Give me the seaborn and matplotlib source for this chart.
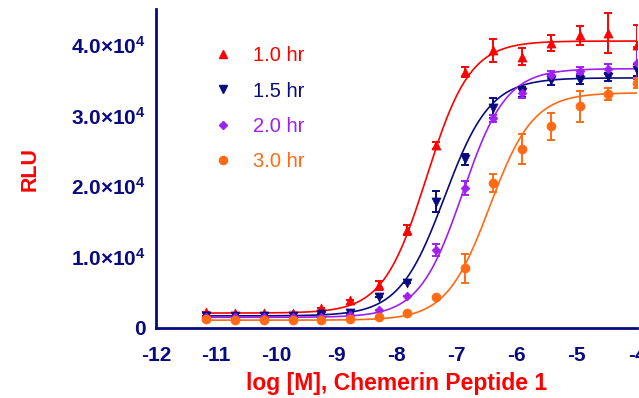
import numpy as np
import pandas as pd
import matplotlib
matplotlib.use("Agg")
import matplotlib.pyplot as plt
from matplotlib.lines import Line2D
import seaborn as sns

# log concentration of the dilution series
log_conc = [-11.16, -10.68, -10.20, -9.72, -9.25, -8.77, -8.29, -7.82,
            -7.34, -6.86, -6.39, -5.91, -5.43, -4.95, -4.48, -4.00]

labels = ["1.0 hr", "1.5 hr", "2.0 hr", "3.0 hr"]
colors = ["#ff0000", "#0a0a80", "#a020f0", "#ff6a13"]
markers = ["^", "v", "D", "o"]
msizes = [6.5, 6.5, 4.5, 6.5]

rlu_1h = [2300, 2100, 2100, 2100, 2800, 3900, 6000, 13800,
          25800, 36100, 39200, 38300, 40200, 41300, 41600, 40000]
err_1h = [0, 0, 0, 0, 0, 0, 600, 700, 500, 700, 1650, 1200, 1100, 1300, 2800, 2700]

rlu_15h = [1700, 1700, 1700, 1700, 2000, 2100, 4400, 6300,
           17800, 23800, 31000, 33300, 35000, 35000, 35400, 36400]
err_15h = [0, 0, 0, 0, 0, 0, 0, 0, 1500, 800, 1400, 700, 700, 600, 600, 800]

rlu_2h = [1500, 1500, 1500, 1500, 1600, 1800, 2600, 4500,
          11000, 19700, 29600, 33100, 35700, 36300, 36500, 37400]
err_2h = [0, 0, 0, 0, 0, 0, 0, 0, 900, 1000, 500, 600, 600, 500, 700, 2200]

rlu_3h = [1300, 1100, 1100, 1100, 1100, 1200, 1500, 2100,
          4400, 8400, 20500, 25300, 28500, 31300, 33000, 34600]
err_3h = [0, 0, 0, 0, 0, 0, 0, 0, 0, 2000, 1250, 2100, 1900, 2200, 800, 700]

# 4PL fit parameters: bottom, top, logEC50, hill slope
fit_bottom = [2100, 1700, 1500, 1100]
fit_top = [40500, 35300, 36600, 33200]
fit_logec50 = [-7.50, -7.20, -6.90, -6.45]
fit_hill = [1.2, 1.15, 1.2, 1.2]

yticks = [0, 10000, 20000, 30000, 40000]
ytick_labels = ["0", r"$\mathbf{1.0{\times}10^{4}}$", r"$\mathbf{2.0{\times}10^{4}}$",
                r"$\mathbf{3.0{\times}10^{4}}$", r"$\mathbf{4.0{\times}10^{4}}$"]

sns.set_style("white")
plt.rcParams["font.family"] = ["Liberation Sans", "DejaVu Sans"]
plt.rcParams["mathtext.fontset"] = "custom"
plt.rcParams["mathtext.bf"] = "Liberation Sans:bold"
plt.rcParams["mathtext.rm"] = "Liberation Sans"

navy = "#0a0a80"

fig = plt.figure(figsize=(6.39, 3.98), dpi=100)
ax = fig.add_axes([0.244, 0.176, 0.753, 0.801])

series = [rlu_1h, rlu_15h, rlu_2h, rlu_3h]
errs = [err_1h, err_15h, err_2h, err_3h]
xfit = np.linspace(log_conc[0], log_conc[-1], 300)

for i in range(4):
    yfit = fit_bottom[i] + (fit_top[i] - fit_bottom[i]) / (1 + 10 ** ((fit_logec50[i] - xfit) * fit_hill[i]))
    sns.lineplot(x=xfit, y=yfit, color=colors[i], lw=1.2, ax=ax, zorder=2)
    ax.errorbar(log_conc, series[i], yerr=errs[i], fmt="none", ecolor=colors[i],
                elinewidth=1.4, capsize=3, capthick=1.4, zorder=3)
    df = pd.DataFrame({"x": log_conc, "y": series[i]})
    sns.scatterplot(data=df, x="x", y="y", marker=markers[i], s=msizes[i] ** 2,
                    color=colors[i], edgecolor=colors[i], linewidth=0.5, ax=ax, zorder=4)

ax.set_xlim(-12, -4)
ax.set_ylim(0, 45000)
ax.set_xticks(range(-12, -3))
ax.set_xticklabels([str(v) for v in range(-12, -3)], fontweight="bold", fontsize=15)
ax.set_yticks(yticks)
ax.set_yticklabels(ytick_labels, fontweight="bold", fontsize=15)

for s in ["top", "right"]:
    ax.spines[s].set_visible(False)
for s in ["left", "bottom"]:
    ax.spines[s].set_color(navy)
    ax.spines[s].set_linewidth(2)
ax.tick_params(axis="both", colors=navy, width=2, length=5, direction="out", pad=2)
ax.tick_params(axis="x", pad=8)

ax.set_xlabel("log [M], Chemerin Peptide 1", color="#ff0000", fontweight="bold",
              fontsize=16.5, labelpad=5)
ax.set_ylabel("RLU", color="#ff0000", fontweight="bold", fontsize=15.5, labelpad=22)

handles = [Line2D([], [], ls="none", marker=markers[i], color=colors[i],
                  markersize=msizes[i] * 0.9) for i in range(4)]
leg = ax.legend(handles, labels, loc="upper left", bbox_to_anchor=(0.08, 0.94),
                frameon=False, fontsize=14.5, handletextpad=1.0, labelspacing=0.8,
                handlelength=1.0)
for t, c in zip(leg.get_texts(), colors):
    t.set_color(c)

fig.savefig("out.png", dpi=100)
